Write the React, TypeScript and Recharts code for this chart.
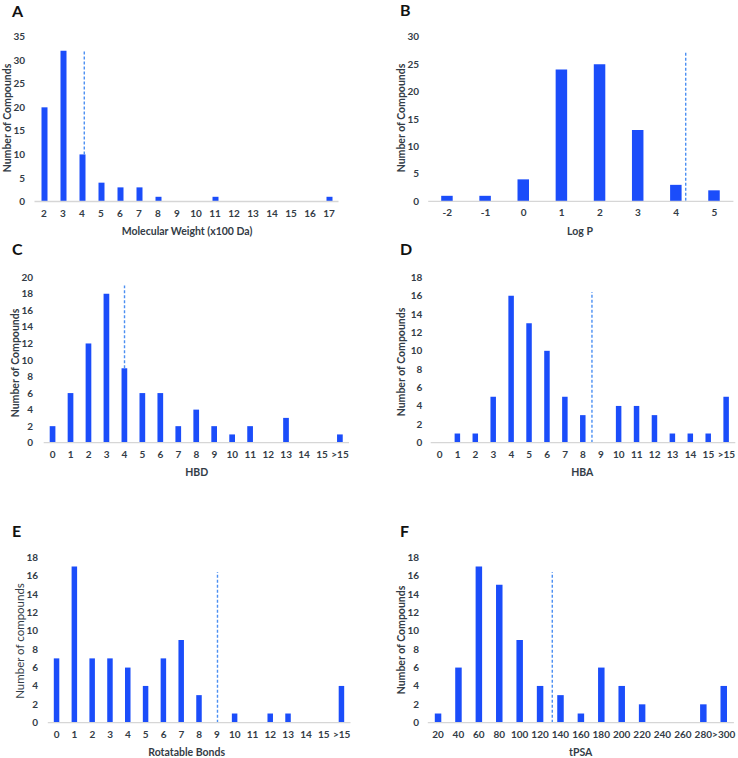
import React from 'react';
import { BarChart, Bar, XAxis, YAxis, ReferenceLine } from 'recharts';

// ---- Data ----
const mwCats = ['2', '3', '4', '5', '6', '7', '8', '9', '10', '11', '12', '13', '14', '15', '16', '17'];
const mwCounts = [20, 32, 10, 4, 3, 3, 1, 0, 0, 1, 0, 0, 0, 0, 0, 1];

const logpCats = ['-2', '-1', '0', '1', '2', '3', '4', '5'];
const logpCounts = [1, 1, 4, 24, 25, 13, 3, 2];

const hbdCats = ['0', '1', '2', '3', '4', '5', '6', '7', '8', '9', '10', '11', '12', '13', '14', '15', '>15'];
const hbdCounts = [2, 6, 12, 18, 9, 6, 6, 2, 4, 2, 1, 2, 0, 3, 0, 0, 1];

const hbaCats = ['0', '1', '2', '3', '4', '5', '6', '7', '8', '9', '10', '11', '12', '13', '14', '15', '>15'];
const hbaCounts = [0, 1, 1, 5, 16, 13, 10, 5, 3, 0, 4, 4, 3, 1, 1, 1, 5];

const rotCats = ['0', '1', '2', '3', '4', '5', '6', '7', '8', '9', '10', '11', '12', '13', '14', '15', '>15'];
const rotCounts = [7, 17, 7, 7, 6, 4, 7, 9, 3, 0, 1, 0, 1, 1, 0, 0, 4];

const tpsaCats = ['20', '40', '60', '80', '100', '120', '140', '160', '180', '200', '220', '240', '260', '280', '>300'];
const tpsaCounts = [1, 6, 17, 15, 9, 4, 3, 1, 6, 4, 2, 0, 0, 2, 4];

// cutoff lines: category they sit by, fraction of a category step to the right, vertical extent in counts
const mwCutoff = { cat: '4', frac: 0.12, y0: 10, y1: 32 };
const logpCutoff = { cat: '4', frac: 0.25, y0: 0.1, y1: 27.4 };
const hbdCutoff = { cat: '4', frac: 0, y0: 9, y1: 19 };
const hbaCutoff = { cat: '8', frac: 0.5, y0: 0, y1: 16.4 };
const rotCutoff = { cat: '9', frac: 0.03, y0: 0, y1: 16.4 };
const tpsaCutoff = { cat: '120', frac: 0.6, y0: 0, y1: 16.4 };

const mwTicks = [0, 5, 10, 15, 20, 25, 30, 35];
const logpTicks = [0, 5, 10, 15, 20, 25, 30];
const hbdTicks = [0, 2, 4, 6, 8, 10, 12, 14, 16, 18, 20];
const eighteenTicks = [0, 2, 4, 6, 8, 10, 12, 14, 16, 18];

const W = 738;
const H = 758;
const BAR = '#1b4dfa';
const DASH = '#4b8ff2';
const AXIS = '#d6d6d6';
const TEXT = '#333c46';
const FONT = 'Lato, "Open Sans", sans-serif';

type Cutoff = { cat: string; frac: number; y0: number; y1: number };

type PanelProps = {
  cats: string[];
  counts: number[];
  ticks: number[];
  cutoff: Cutoff;
  plotL: number;
  plotR: number;
  plotT: number;
  plotB: number;
  yLabelRight: number;
  barSize: number;
  letter: string;
  letterX: number;
  letterY: number;
  yTitle: string;
  yTitleX: number;
  yTitleY: number;
  yTitleBold?: boolean;
  xTitle: string;
  xTitleX: number;
  xTitleY: number;
};

const YW = 40;
const XH = 24;

function Panel(p: PanelProps) {
  const data = p.cats.map((c, i) => ({ cat: c, n: p.counts[i] }));
  const n = p.cats.length;
  const step = (p.plotR - p.plotL) / n;
  const dx = p.cutoff.frac * step;
  const top = p.ticks[p.ticks.length - 1];
  const tickStyle = { fill: TEXT, fontSize: 10, fontWeight: 700, fontFamily: FONT };
  return (
    <>
      <div style={{ position: 'absolute', left: 0, top: 0 }}>
        <BarChart
          width={W}
          height={H}
          data={data}
          margin={{ top: p.plotT, bottom: H - p.plotB - XH, left: p.plotL - YW, right: W - p.plotR }}
        >
          <XAxis
            dataKey="cat"
            height={XH}
            interval={0}
            tickLine={false}
            tickSize={0}
            tickMargin={8}
            axisLine={{ stroke: AXIS, strokeWidth: 1.3 }}
            tick={tickStyle}
          />
          <YAxis
            width={YW}
            domain={[0, top]}
            ticks={p.ticks}
            interval={0}
            axisLine={false}
            tickLine={false}
            tickSize={0}
            tickMargin={p.plotL - p.yLabelRight}
            tick={tickStyle}
          />
          <Bar dataKey="n" fill={BAR} barSize={p.barSize} isAnimationActive={false} />
          <ReferenceLine
            segment={[
              { x: p.cutoff.cat, y: p.cutoff.y0 },
              { x: p.cutoff.cat, y: p.cutoff.y1 },
            ]}
            ifOverflow="visible"
            shape={(sp: any) => (
              <line
                x1={sp.x1 + dx}
                y1={sp.y1}
                x2={sp.x2 + dx}
                y2={sp.y2}
                stroke={DASH}
                strokeWidth={1.4}
                strokeDasharray="3 2"
              />
            )}
          />
        </BarChart>
      </div>
      <div
        style={{
          position: 'absolute',
          left: p.letterX,
          top: p.letterY,
          fontFamily: FONT,
          fontWeight: 700,
          fontSize: 16,
          lineHeight: '16px',
          color: '#111',
        }}
      >
        {p.letter}
      </div>
      <div
        style={{
          position: 'absolute',
          left: p.yTitleX,
          top: p.yTitleY,
          transform: 'translate(-50%, -50%) rotate(-90deg)',
          whiteSpace: 'nowrap',
          fontFamily: FONT,
          fontWeight: p.yTitleBold === false ? 400 : 700,
          fontSize: p.yTitleBold === false ? 11.5 : 10.5,
          lineHeight: '12px',
          color: TEXT,
        }}
      >
        {p.yTitle}
      </div>
      <div
        style={{
          position: 'absolute',
          left: p.xTitleX,
          top: p.xTitleY,
          transform: 'translate(-50%, -50%)',
          whiteSpace: 'nowrap',
          fontFamily: FONT,
          fontWeight: 700,
          fontSize: 10.5,
          lineHeight: '12px',
          color: TEXT,
        }}
      >
        {p.xTitle}
      </div>
    </>
  );
}

export default function App() {
  return (
    <div style={{ position: 'absolute', left: 0, top: 0, width: W, height: H, background: '#fff', overflow: 'hidden' }}>
      <Panel
        cats={mwCats} counts={mwCounts} ticks={mwTicks} cutoff={mwCutoff}
        plotL={34.5} plotR={338.5} plotT={36.7} plotB={201.5} yLabelRight={25} barSize={6}
        letter="A" letterX={12} letterY={3}
        yTitle="Number of Compounds" yTitleX={7} yTitleY={118}
        xTitle="Molecular Weight (x100 Da)" xTitleX={187} xTitleY={230.7}
      />
      <Panel
        cats={logpCats} counts={logpCounts} ticks={logpTicks} cutoff={logpCutoff}
        plotL={428.2} plotR={733.4} plotT={36.7} plotB={201.3} yLabelRight={419} barSize={11.5}
        letter="B" letterX={400} letterY={2}
        yTitle="Number of Compounds" yTitleX={400.7} yTitleY={118}
        xTitle="Log P" xTitleX={580} xTitleY={230.7}
      />
      <Panel
        cats={hbdCats} counts={hbdCounts} ticks={hbdTicks} cutoff={hbdCutoff}
        plotL={43.7} plotR={349} plotT={277.3} plotB={442.7} yLabelRight={33} barSize={5.7}
        letter="C" letterX={12} letterY={241}
        yTitle="Number of Compounds" yTitleX={15} yTitleY={362.5}
        xTitle="HBD" xTitleX={196.7} xTitleY={471.7}
      />
      <Panel
        cats={hbaCats} counts={hbaCounts} ticks={eighteenTicks} cutoff={hbaCutoff}
        plotL={430.7} plotR={735.3} plotT={277.3} plotB={442.7} yLabelRight={422.3} barSize={5.5}
        letter="D" letterX={400} letterY={241}
        yTitle="Number of Compounds" yTitleX={401.3} yTitleY={362}
        xTitle="HBA" xTitleX={582.3} xTitleY={471.7}
      />
      <Panel
        cats={rotCats} counts={rotCounts} ticks={eighteenTicks} cutoff={rotCutoff}
        plotL={47.8} plotR={350.5} plotT={557.3} plotB={722.7} yLabelRight={38} barSize={5.5}
        letter="E" letterX={12} letterY={523}
        yTitle="Number of compounds" yTitleX={20} yTitleY={640.5} yTitleBold={false}
        xTitle="Rotatable Bonds" xTitleX={186.7} xTitleY={752}
      />
      <Panel
        cats={tpsaCats} counts={tpsaCounts} ticks={eighteenTicks} cutoff={tpsaCutoff}
        plotL={427.8} plotR={733.9} plotT={557.3} plotB={722.7} yLabelRight={419} barSize={6.5}
        letter="F" letterX={400} letterY={523}
        yTitle="Number of Compounds" yTitleX={400.7} yTitleY={639.7}
        xTitle="tPSA" xTitleX={580.7} xTitleY={752}
      />
    </div>
  );
}
